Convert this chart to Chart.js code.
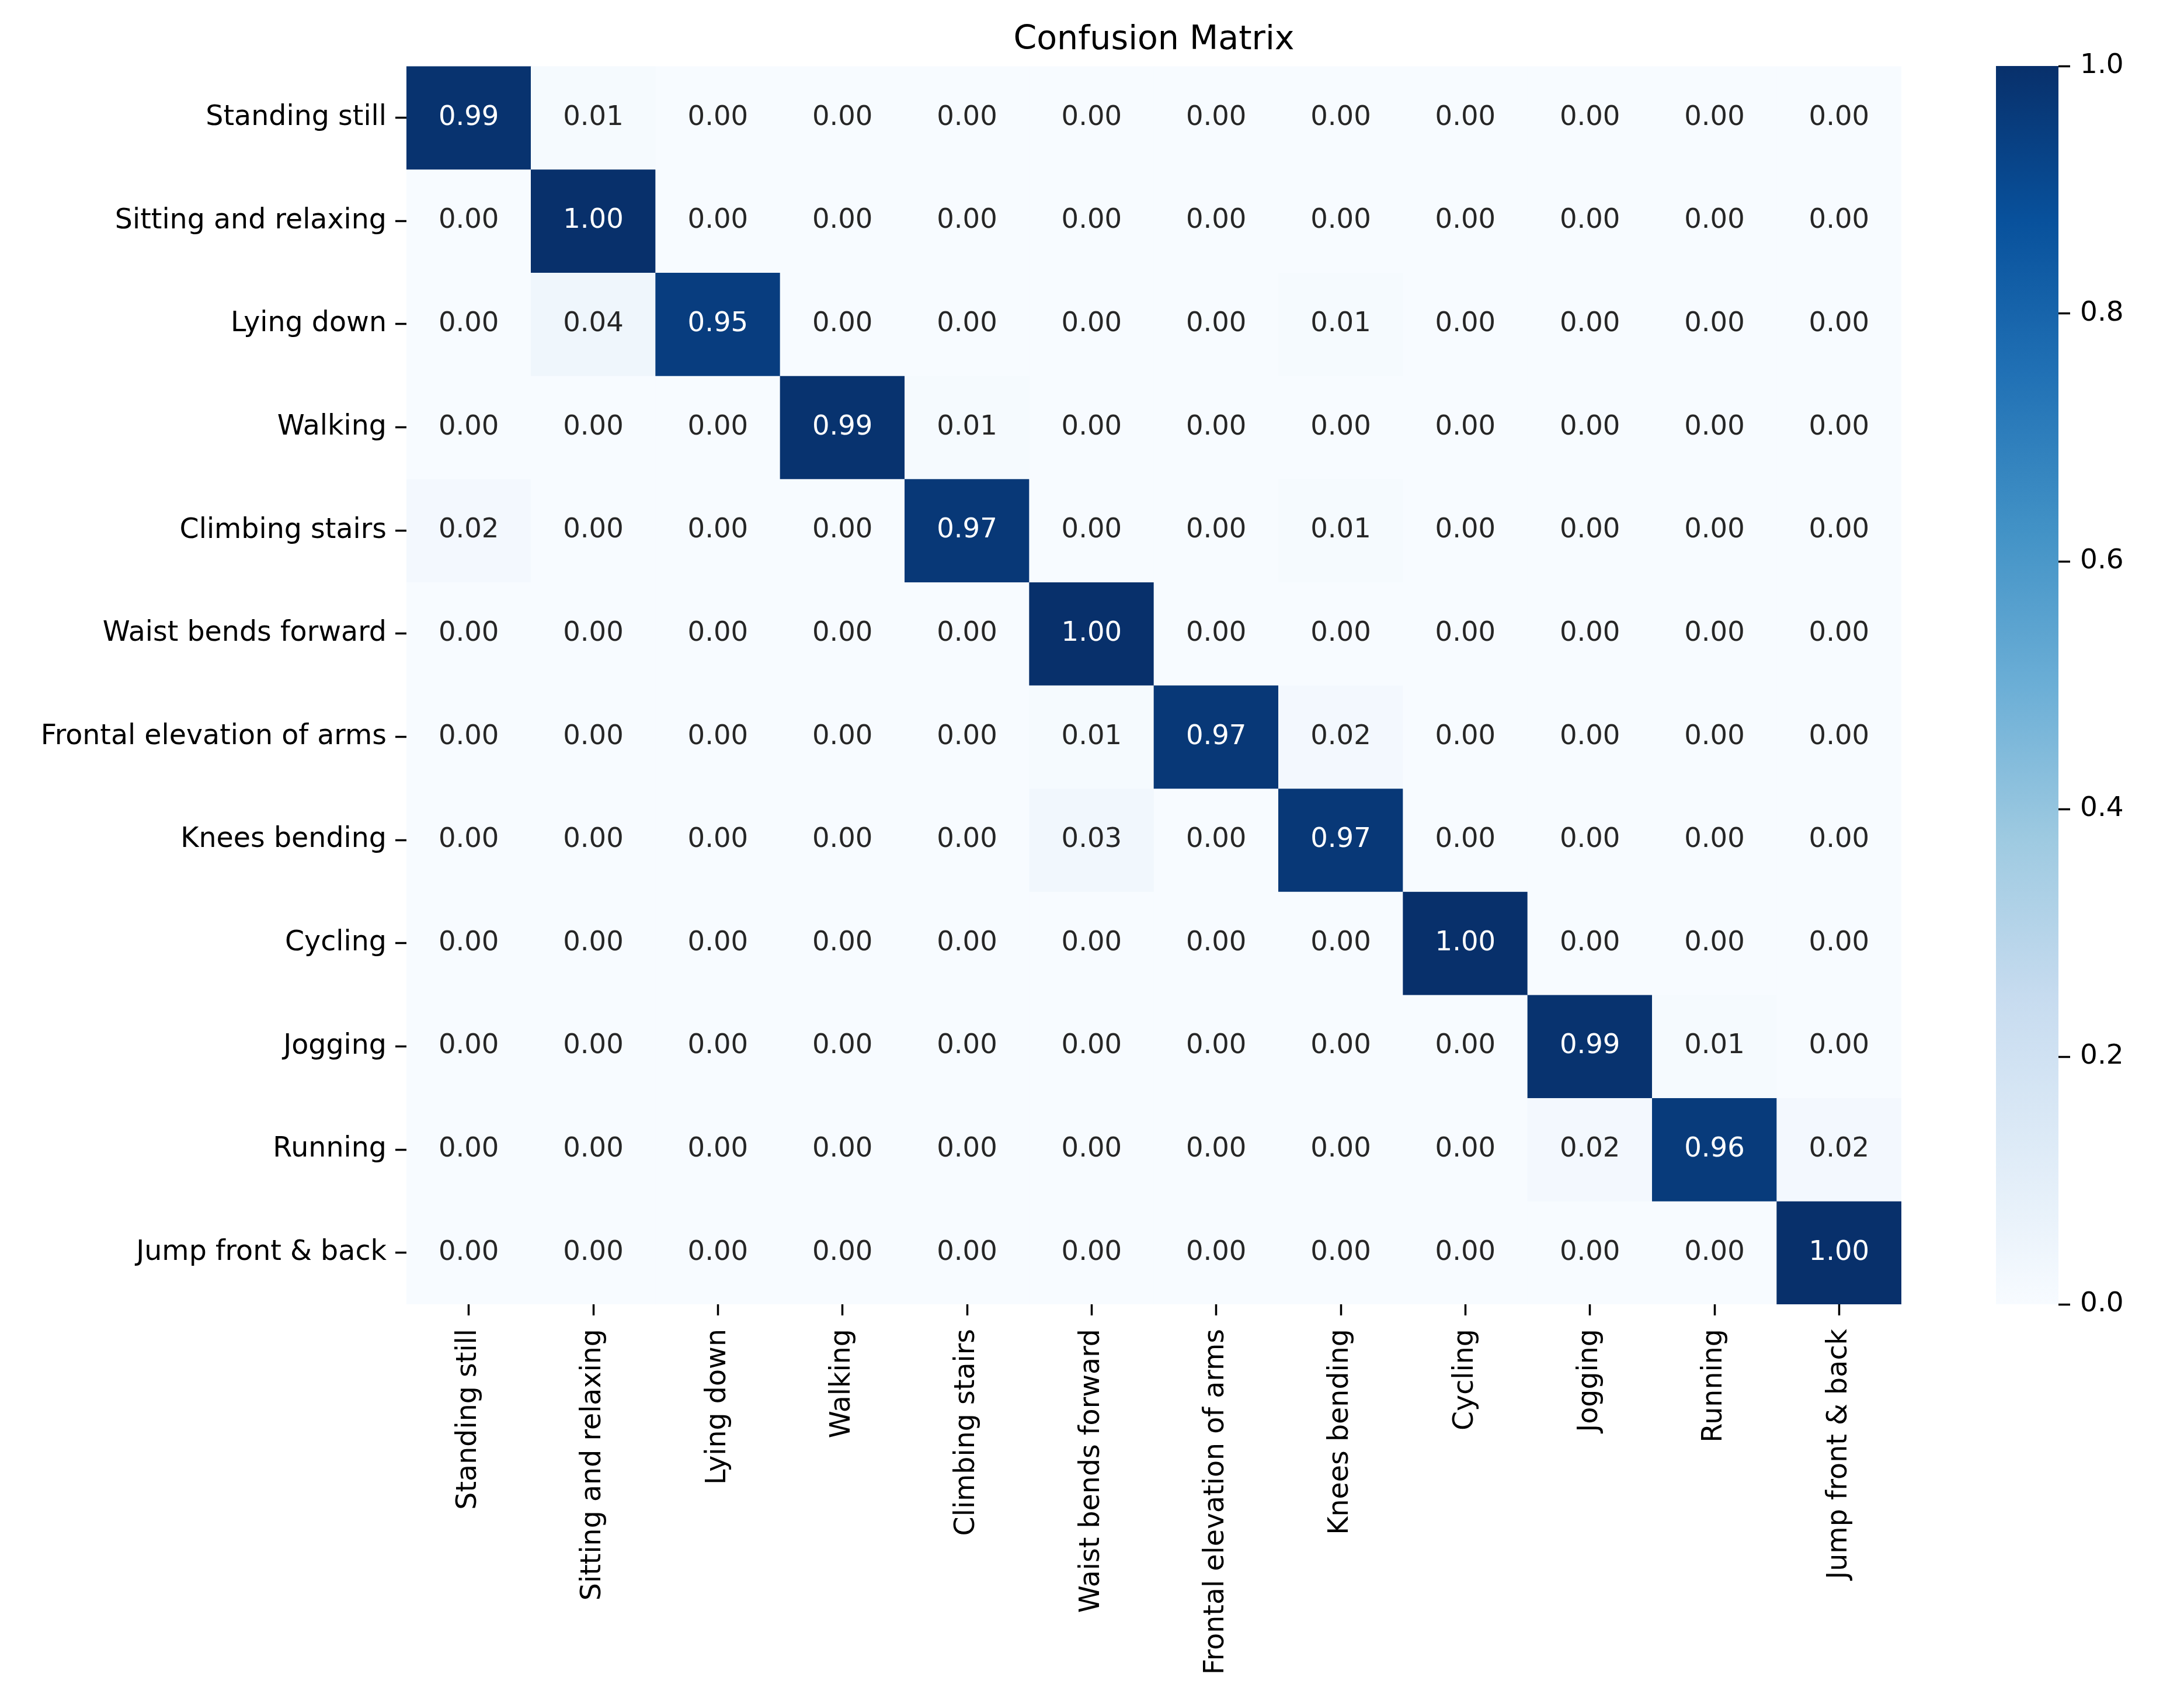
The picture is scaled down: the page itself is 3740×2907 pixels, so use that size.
<!DOCTYPE html>
<html>
<head>
<meta charset="utf-8">
<title>Confusion Matrix</title>
<script src="https://cdn.jsdelivr.net/npm/chart.js@4.4.1/dist/chart.umd.min.js"></script>
<style>
  html, body { margin: 0; padding: 0; background: #fff; }
  #wrap { position: relative; width: 3740px; height: 2907px; }
  #matrix { position: absolute; left: 0; top: 0; }
  #colorbar { position: absolute; left: 3300px; top: 0; }
</style>
</head>
<body>
<div id="wrap">
  <canvas id="matrix" width="3740" height="2907"></canvas>
  <canvas id="colorbar" width="440" height="2907"></canvas>
</div>
<script>
// class names, used for both rows (true) and columns (predicted)
const classes = [
    "Standing still", "Sitting and relaxing", "Lying down", "Walking",
    "Climbing stairs", "Waist bends forward", "Frontal elevation of arms",
    "Knees bending", "Cycling", "Jogging", "Running", "Jump front & back"
];

// normalised confusion matrix, one row per true class
const values = [
    [0.99, 0.01, 0.00, 0.00, 0.00, 0.00, 0.00, 0.00, 0.00, 0.00, 0.00, 0.00],
    [0.00, 1.00, 0.00, 0.00, 0.00, 0.00, 0.00, 0.00, 0.00, 0.00, 0.00, 0.00],
    [0.00, 0.04, 0.95, 0.00, 0.00, 0.00, 0.00, 0.01, 0.00, 0.00, 0.00, 0.00],
    [0.00, 0.00, 0.00, 0.99, 0.01, 0.00, 0.00, 0.00, 0.00, 0.00, 0.00, 0.00],
    [0.02, 0.00, 0.00, 0.00, 0.97, 0.00, 0.00, 0.01, 0.00, 0.00, 0.00, 0.00],
    [0.00, 0.00, 0.00, 0.00, 0.00, 1.00, 0.00, 0.00, 0.00, 0.00, 0.00, 0.00],
    [0.00, 0.00, 0.00, 0.00, 0.00, 0.01, 0.97, 0.02, 0.00, 0.00, 0.00, 0.00],
    [0.00, 0.00, 0.00, 0.00, 0.00, 0.03, 0.00, 0.97, 0.00, 0.00, 0.00, 0.00],
    [0.00, 0.00, 0.00, 0.00, 0.00, 0.00, 0.00, 0.00, 1.00, 0.00, 0.00, 0.00],
    [0.00, 0.00, 0.00, 0.00, 0.00, 0.00, 0.00, 0.00, 0.00, 0.99, 0.01, 0.00],
    [0.00, 0.00, 0.00, 0.00, 0.00, 0.00, 0.00, 0.00, 0.00, 0.02, 0.96, 0.02],
    [0.00, 0.00, 0.00, 0.00, 0.00, 0.00, 0.00, 0.00, 0.00, 0.00, 0.00, 1.00]
];

const colorbarTicks = [0.0, 0.2, 0.4, 0.6, 0.8, 1.0];

// matplotlib "Blues"
const bluesStops = [
    [247, 251, 255], [222, 235, 247], [198, 219, 239], [158, 202, 225],
    [107, 174, 214], [66, 146, 198], [33, 113, 181], [8, 81, 156], [8, 48, 107]
];

function blues(v) {
    const t = Math.min(Math.max(v, 0), 1) * (bluesStops.length - 1);
    const i = Math.min(Math.floor(t), bluesStops.length - 2);
    const f = t - i;
    const a = bluesStops[i], b = bluesStops[i + 1];
    return a.map((c, k) => Math.round(c + (b[k] - c) * f));
}
const rgb = (c) => `rgb(${c[0]},${c[1]},${c[2]})`;

function luminance(c) {
    const lin = (x) => {
        x /= 255;
        return x <= 0.03928 ? x / 12.92 : Math.pow((x + 0.055) / 1.055, 2.4);
    };
    return 0.2126 * lin(c[0]) + 0.7152 * lin(c[1]) + 0.0722 * lin(c[2]);
}

const FONT = "'DejaVu Sans', sans-serif";
Chart.defaults.color = '#000';
Chart.defaults.font.family = FONT;

// writes the value in each cell, centred on the bar element
const cellLabels = {
    id: 'cellLabels',
    afterDatasetsDraw(chart) {
        const ctx = chart.ctx;
        ctx.save();
        ctx.font = `46.5px ${FONT}`;
        ctx.textAlign = 'center';
        ctx.textBaseline = 'middle';
        chart.data.datasets.forEach((ds, i) => {
            chart.getDatasetMeta(i).data.forEach((bar, j) => {
                const v = values[i][j];
                ctx.fillStyle = luminance(blues(v)) > 0.408 ? '#262626' : '#ffffff';
                ctx.fillText(v.toFixed(2), bar.x, (bar.y + bar.base) / 2);
            });
        });
        ctx.restore();
    }
};

const tickGrid = {
    drawOnChartArea: false,
    offset: false,
    tickLength: 19,
    tickWidth: 3.5,
    color: '#000'
};

new Chart(document.getElementById('matrix'), {
    type: 'bar',
    data: {
        labels: classes,
        // each row is a stack segment of height 1, coloured by its cell value
        datasets: values.map((row, i) => ({
            label: classes[i],
            data: row.map(() => 1),
            backgroundColor: row.map((v) => rgb(blues(v))),
            borderWidth: 0,
            barPercentage: 1,
            categoryPercentage: 1
        }))
    },
    options: {
        responsive: false,
        devicePixelRatio: 1,
        animation: false,
        events: [],
        layout: { padding: { left: 0, right: 484, top: 0, bottom: 0 } },
        plugins: {
            legend: { display: false },
            tooltip: { enabled: false },
            title: {
                display: true,
                text: 'Confusion Matrix',
                fullSize: false,
                color: '#000',
                font: { size: 57, weight: 'normal', family: FONT },
                padding: { top: 35, bottom: 10 }
            }
        },
        scales: {
            x: {
                stacked: true,
                grid: tickGrid,
                border: { display: false },
                ticks: {
                    autoSkip: false,
                    minRotation: 90,
                    maxRotation: 90,
                    padding: 23,
                    color: '#000',
                    font: { size: 47.5, family: FONT }
                },
                afterFit(scale) { scale.height = 674; }
            },
            y: {
                stacked: true,
                reverse: true,
                min: 0,
                max: classes.length,
                grid: tickGrid,
                border: { display: false },
                afterBuildTicks(scale) {
                    scale.ticks = classes.map((_, i) => ({ value: i + 0.5 }));
                },
                ticks: {
                    autoSkip: false,
                    padding: 15,
                    color: '#000',
                    font: { size: 47.5, family: FONT },
                    callback: (v, i) => classes[i]
                },
                afterFit(scale) { scale.width = 696; }
            }
        }
    },
    plugins: [cellLabels]
});

new Chart(document.getElementById('colorbar'), {
    type: 'bar',
    data: {
        labels: [''],
        datasets: [{
            data: [1],
            borderWidth: 0,
            barPercentage: 1,
            categoryPercentage: 1,
            backgroundColor(c) {
                const area = c.chart.chartArea;
                if (!area) return rgb(bluesStops[8]);
                const g = c.chart.ctx.createLinearGradient(0, area.bottom, 0, area.top);
                bluesStops.forEach((s, k) => g.addColorStop(k / (bluesStops.length - 1), rgb(s)));
                return g;
            }
        }]
    },
    options: {
        responsive: false,
        devicePixelRatio: 1,
        animation: false,
        events: [],
        layout: { padding: { left: 118, right: 0, top: 113, bottom: 674 } },
        plugins: { legend: { display: false }, tooltip: { enabled: false } },
        scales: {
            x: { display: false },
            y: {
                position: 'right',
                min: 0,
                max: 1,
                grid: { drawOnChartArea: false, tickLength: 20, tickWidth: 3.5, color: '#000' },
                border: { display: false },
                afterBuildTicks(scale) {
                    scale.ticks = colorbarTicks.map((v) => ({ value: v }));
                },
                ticks: {
                    padding: 17,
                    color: '#000',
                    font: { size: 47, family: FONT },
                    callback: (v) => Number(v).toFixed(1)
                },
                afterFit(scale) { scale.width = 215; }
            }
        }
    }
});
</script>
</body>
</html>
